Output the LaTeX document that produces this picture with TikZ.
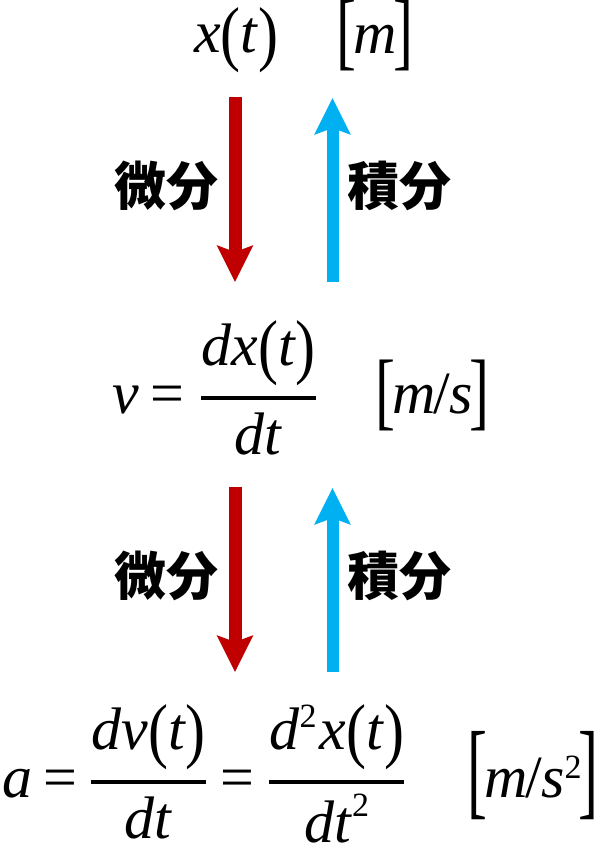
\documentclass[tikz,border=0pt]{standalone}
\usepackage{mathptmx}
\usepackage{amsmath}
\usepackage{graphicx}
\usepackage{fontspec}
\newfontfamily\jpfont{Noto Sans CJK JP}
\newfontfamily\eqfont{Liberation Serif}
\newcommand{\vi}[1]{\textit{#1}}
\newcommand{\lp}{\raisebox{-5pt}{\scalebox{1}[1.2]{(}}}
\newcommand{\rp}{\raisebox{-5pt}{\scalebox{1}[1.2]{)}}}
\newcommand{\lb}[2]{\raisebox{-#2}{\scalebox{1}[#1]{[}}\kern-3pt}
\newcommand{\rb}[2]{\kern-3pt\raisebox{-#2}{\scalebox{1}[#1]{]}}}
\newcommand{\sq}[1]{\raisebox{#1}{\fontsize{34}{34}\selectfont 2}}
\newcommand{\fr}[2]{$\genfrac{}{}{3.5pt}{0}{\mbox{#1}}{\mbox{#2}}$}
\usetikzlibrary{arrows.meta}

\definecolor{diffred}{HTML}{C00000}
\definecolor{intblue}{HTML}{00B0F0}

\begin{document}
\begin{tikzpicture}[
  x=1pt, y=-1pt,
  eq/.style={inner sep=0pt, anchor=base west, font=\eqfont\fontsize{60}{72}\selectfont},
  lab/.style={inner sep=0pt, font=\jpfont\bfseries\fontsize{52}{60}\selectfont},
  diff/.style={line width=13pt, diffred,
               -{Stealth[width=35pt, length=36pt, inset=6pt]}},
  integ/.style={line width=12pt, intblue,
               -{Stealth[width=35pt, length=36pt, inset=6pt]}},
]
\useasboundingbox (0,0) rectangle (600,845);

% position
\node[eq] (x)  at (194,53) {\vi{x}\lp\vi{t}\rp};
\node[eq] (xu) at (336,54) {\lb{1.43}{6pt}\vi{m}\rb{1.43}{6pt}};

% velocity
\node[eq] (v)    at (112,413) {\vi{v}};
\node[eq] (veq)  at (150,413) {=};
\node[eq] (vfr)  at (200,413) {\fr{\vi{dx}\lp\vi{t}\rp}{\vi{dt}}};
\node[eq] (vu)   at (375,413) {\lb{1.43}{6pt}\vi{m}\kern-2pt/\kern-1pt\vi{s}\rb{1.43}{6pt}};

% acceleration
\node[eq] (a)    at (2,797)   {\vi{a}};
\node[eq] (aeq1) at (43,797)  {=};
\node[eq] (afr1) at (90,797)  {\fr{\vi{dv}\lp\vi{t}\rp}{\vi{dt}}};
\node[eq] (aeq2) at (220,797) {=};
\node[eq] (afr2) at (268,797) {\fr{\vi{d}\sq{22pt}\kern3pt\vi{x}\lp\vi{t}\rp}{\vi{dt}\sq{26pt}}};
\node[eq] (au)   at (467,797) {\lb{1.78}{8.5pt}\vi{m}\kern-2pt/\kern-1pt\vi{s}\sq{19pt}\rb{1.78}{8.5pt}};

\coordinate (d1s) at (235,97);
\coordinate (d1e) at (235,282);
\coordinate (i1s) at (332.5,282);
\coordinate (i1e) at (332.5,98);
\coordinate (d2s) at (235,487);
\coordinate (d2e) at (235,672);
\coordinate (i2s) at (332.5,672);
\coordinate (i2e) at (332.5,488);

\draw[diff]  (d1s) -- (d1e);
\draw[integ] (i1s) -- (i1e);
\draw[diff]  (d2s) -- (d2e);
\draw[integ] (i2s) -- (i2e);

\node[lab] (l1) at (166,186) {微分};
\node[lab] (l2) at (399,186) {積分};
\node[lab] (l3) at (166,576) {微分};
\node[lab] (l4) at (399,576) {積分};
\end{tikzpicture}
\end{document}
